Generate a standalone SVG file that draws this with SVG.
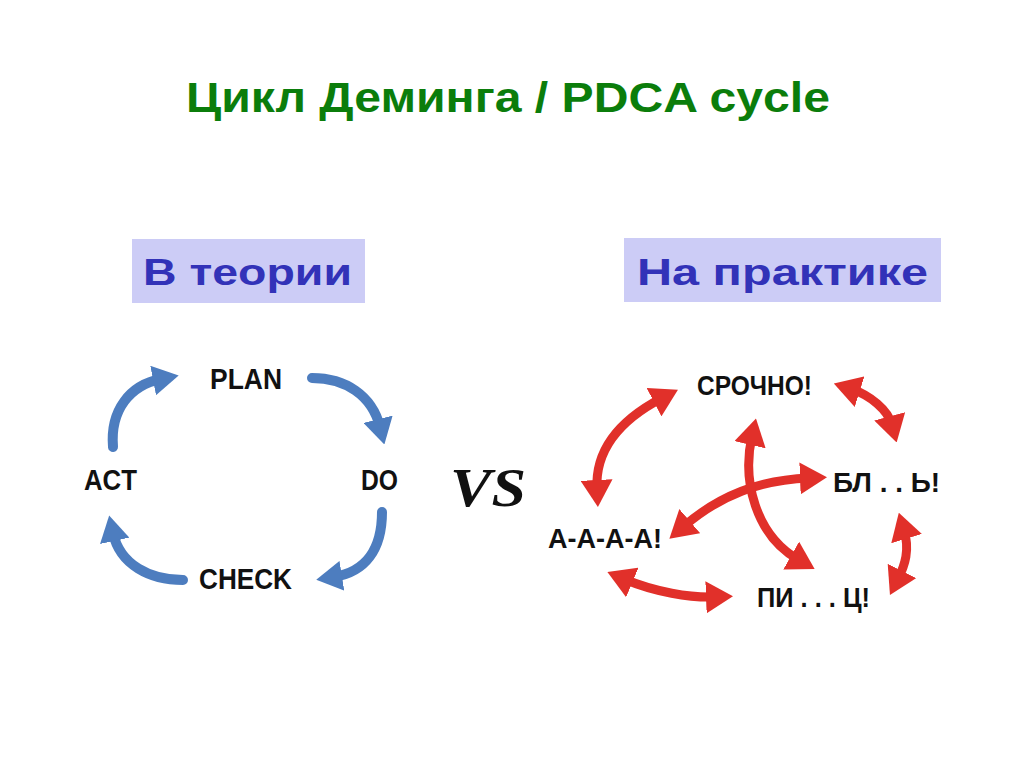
<svg xmlns="http://www.w3.org/2000/svg" width="1024" height="768" viewBox="0 0 1024 768">
<style>
.title{font-family:"Liberation Sans",Arial,sans-serif;font-weight:bold;font-size:43px;fill:#0b7d0b}
.box{fill:#ccccf6}
.boxt{font-family:"Liberation Sans",Arial,sans-serif;font-weight:bold;font-size:37px;fill:#3232b8}
.lbl{font-family:"Liberation Sans",Arial,sans-serif;font-weight:bold;font-size:29px;fill:#111}
.rlbl{font-family:"Liberation Sans",Arial,sans-serif;font-weight:bold;font-size:27px;fill:#111}
.blue{fill:none;stroke:#4d7dbf;stroke-width:10;stroke-linecap:round;marker-end:url(#bh)}
.red{fill:none;stroke:#e1302a;stroke-width:9;marker-start:url(#rh);marker-end:url(#rh)}
</style>
<defs>
<marker id="bh" viewBox="0 0 26 30" markerWidth="26" markerHeight="30" refX="8" refY="15" orient="auto" markerUnits="userSpaceOnUse">
<path d="M0,0 L26,15 L0,30 z" fill="#4d7dbf"/>
</marker>
<marker id="rh" viewBox="0 0 27 32" markerWidth="27" markerHeight="32" refX="9" refY="16" orient="auto-start-reverse" markerUnits="userSpaceOnUse">
<path d="M0,0 L27,16 L0,32 z" fill="#e1302a"/>
</marker>
</defs>
<rect width="1024" height="768" fill="#ffffff"/>
<text class="title" x="186" y="112" textLength="644" lengthAdjust="spacingAndGlyphs">Цикл Деминга / PDCA cycle</text>
<g id="theory-label">
<rect class="box" x="132" y="239" width="233" height="64"/>
<text class="boxt" x="143" y="285" textLength="209" lengthAdjust="spacingAndGlyphs">В теории</text>
</g>
<g id="practice-label">
<rect class="box" x="624" y="238" width="317" height="64"/>
<text class="boxt" x="637" y="285" textLength="291" lengthAdjust="spacingAndGlyphs">На практике</text>
</g>
<g id="plan"><text class="lbl" x="210" y="389" textLength="72" lengthAdjust="spacingAndGlyphs">PLAN</text></g>
<g id="do"><text class="lbl" x="361" y="490" textLength="37" lengthAdjust="spacingAndGlyphs">DO</text></g>
<g id="check"><text class="lbl" x="199" y="589" textLength="93" lengthAdjust="spacingAndGlyphs">CHECK</text></g>
<g id="act"><text class="lbl" x="84" y="490" textLength="53" lengthAdjust="spacingAndGlyphs">ACT</text></g>
<g id="vs"><text x="450" y="506" font-family="'Liberation Serif',serif" font-style="italic" font-weight="bold" font-size="54" fill="#111" textLength="76" lengthAdjust="spacingAndGlyphs">VS</text></g>
<g id="srochno"><text class="rlbl" x="697" y="395" textLength="115" lengthAdjust="spacingAndGlyphs">СРОЧНО!</text></g>
<g id="bl"><text class="rlbl" x="833" y="492" textLength="107" lengthAdjust="spacingAndGlyphs">БЛ . . Ь!</text></g>
<g id="aaaa"><text class="rlbl" x="548" y="548" textLength="114" lengthAdjust="spacingAndGlyphs">А-А-А-А!</text></g>
<g id="pits"><text class="rlbl" x="757" y="607" textLength="113" lengthAdjust="spacingAndGlyphs">ПИ . . . Ц!</text></g>
<g id="connectors">
<path class="blue" d="M113,447 C110,410 130,385 161,379"/>
<path class="blue" d="M312,378 C345,378 372,395 380,427"/>
<path class="blue" d="M382,512 C382,550 365,572 334,577"/>
<path class="blue" d="M183,580 C150,580 120,565 113,533"/>
<path class="red" d="M662,398 C620,420 595,450 597,489"/>
<path class="red" d="M851,389 C870,395 888,410 892,425"/>
<path class="red" d="M904,530 C910,550 905,565 898,579"/>
<path class="red" d="M624,579 C655,592 690,598 715,597"/>
<path class="red" d="M683,527 C720,495 760,480 809,478"/>
<path class="red" d="M752,436 C742,480 755,535 799,560"/>
</g>
</svg>
